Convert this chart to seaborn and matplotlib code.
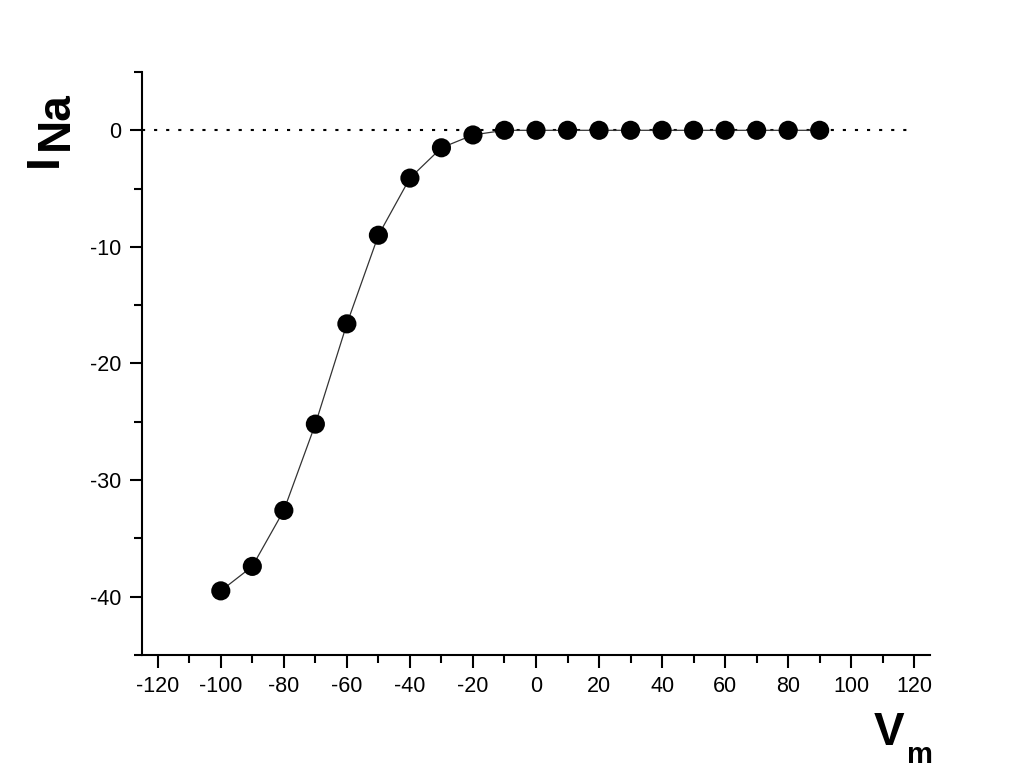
import matplotlib
matplotlib.use("Agg")
import matplotlib.pyplot as plt
import seaborn as sns
import pandas as pd
from matplotlib.ticker import MultipleLocator

# Datos
vm = [-100, -90, -80, -70, -60, -50, -40, -30, -20, -10, 0, 10, 20, 30, 40, 50, 60, 70, 80, 90]
ina = [-39.5, -37.4, -32.6, -25.2, -16.6, -9.0, -4.1, -1.5, -0.4,
       0, 0, 0, 0, 0, 0, 0, 0, 0, 0, 0]

df = pd.DataFrame({"Vm": vm, "INa": ina})

sns.set_style("ticks")
plt.rcParams["font.family"] = ["Liberation Sans", "DejaVu Sans"]
plt.rcParams["axes.unicode_minus"] = False
plt.rcParams["text.color"] = "black"
plt.rcParams["xtick.color"] = "black"
plt.rcParams["ytick.color"] = "black"
plt.rcParams["axes.edgecolor"] = "black"

fig = plt.figure(figsize=(10.24, 7.68), dpi=100)
ax = fig.add_axes([142 / 1024, 1 - 655 / 768, (930 - 142) / 1024, (655 - 72) / 768])

# línea punteada en cero
ax.plot([-125, 120], [0, 0], color="black", lw=1.5, dashes=(1.5, 4.3), zorder=1)

sns.lineplot(data=df, x="Vm", y="INa", ax=ax, color="#333333", lw=0.9, zorder=2)
sns.scatterplot(data=df, x="Vm", y="INa", ax=ax, color="black", s=190,
                edgecolor="none", zorder=3)

ax.set_xlim(-125, 125)
ax.set_ylim(-45, 5)
ax.xaxis.set_major_locator(MultipleLocator(20))
ax.xaxis.set_minor_locator(MultipleLocator(10))
ax.yaxis.set_major_locator(MultipleLocator(10))
ax.yaxis.set_minor_locator(MultipleLocator(5))
ax.tick_params(which="major", length=9, width=1.5, labelsize=15.5, direction="out",
               pad=6, colors="black")
ax.tick_params(which="minor", length=6, width=1.5, direction="out", colors="black")
sns.despine(ax=ax)
for s in ["left", "bottom"]:
    ax.spines[s].set_linewidth(1.5)
    ax.spines[s].set_color("black")
ax.set_xlabel("")
ax.set_ylabel("")

# Etiquetas de los ejes
fig.text(45 / 1024, 1 - 167 / 768, "I", rotation=90, ha="center", va="bottom",
         fontsize=33, fontweight="bold", color="black")
fig.text(56 / 1024, 1 - 150 / 768, "Na", rotation=90, ha="center", va="bottom",
         fontsize=33, fontweight="bold", color="black")
fig.text(874 / 1024, 1 - 745 / 768, "V", ha="left", va="baseline",
         fontsize=33, fontweight="bold", color="black")
fig.text(907 / 1024, 1 - 763 / 768, "m", ha="left", va="baseline",
         fontsize=21, fontweight="bold", color="black")

fig.savefig("out.png", dpi=100)
